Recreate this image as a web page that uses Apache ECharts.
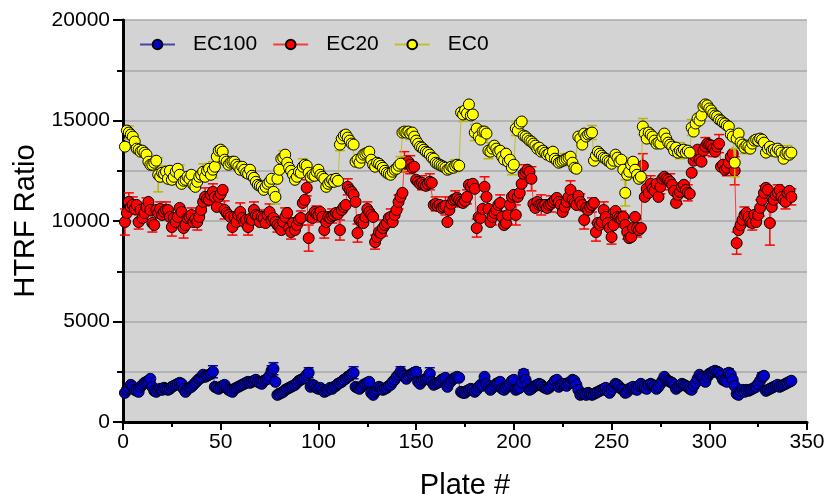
<!DOCTYPE html>
<html>
<head>
<meta charset="utf-8">
<script src="https://cdn.jsdelivr.net/npm/echarts@6.0.0/dist/echarts.min.js"></script>
<style>
  html, body { margin: 0; padding: 0; background: #fff; }
  #chart { width: 827px; height: 494px; }
</style>
</head>
<body>
<div id="chart"></div>
<script>
// HTRF ratio per plate
const seriesNames = ["EC100", "EC20", "EC0"];

const ec100 = [
  1450,1600,1700,1850,1750,1600,1550,1500,1750,1850,
  1950,2000,2050,2150,1750,1550,1500,1600,1650,1600,
  1700,1650,1600,1650,1750,1800,1850,1900,1950,1900,
  1650,1500,1650,1700,1750,1850,1950,2050,2150,2200,
  2350,2250,2300,2350,2400,2500,1750,1700,1650,1750,
  1800,1850,1700,1600,1550,1500,1650,1700,1750,1800,
  1850,1900,1950,2000,1950,2000,2050,2100,2000,1950,
  1900,2050,2100,2150,2300,2550,2650,2000,1350,1400,
  1450,1500,1600,1650,1700,1750,1800,1850,1950,2050,
  2100,2150,2200,2350,2450,1750,1850,1800,1700,1650,
  1700,1600,1500,1550,1600,1700,1650,1750,1800,1900,
  1950,2000,2100,2150,2250,2300,2400,2450,1750,1700,
  1650,1750,1850,1900,1950,2000,1450,1350,1500,1600,
  1750,1700,1600,1650,1700,1800,1850,2000,2100,2250,
  2350,2500,2400,2300,2150,2300,2350,2400,2450,2500,
  2000,1900,2050,2100,2150,2200,2400,2000,1850,1900,
  1950,2000,2100,2150,2200,1750,1950,2050,2150,2200,
  2250,2200,1500,1450,1450,1550,1600,1650,1600,1500,
  1600,1750,1850,1800,2250,1900,1750,1600,1700,1800,
  1900,1950,2000,1650,1600,1700,1800,1900,2050,2100,
  1600,1650,1700,1950,2400,2100,1850,1600,1650,1750,
  1800,1850,1900,1850,1750,1700,1650,1700,1800,1900,
  2050,2100,1750,1850,1900,1850,1800,1950,2000,2100,
  2050,1850,1600,1350,1400,1400,1350,1450,1400,1350,
  1400,1450,1500,1550,1600,1650,1700,1550,1450,1600,
  1750,1900,1850,1750,1650,1600,1450,1500,1650,1700,
  1750,1650,1600,1800,1900,1750,1700,1650,1850,1900,
  1850,1800,1650,1750,1900,2050,2250,2100,2050,2000,
  1950,1850,1650,1750,1800,1900,1850,1800,1750,1650,
  1600,1800,1950,2150,2350,2250,2200,2000,2250,2400,
  2450,2500,2550,2500,2450,2300,2100,2050,2000,2450,
  2350,2100,1800,1400,1350,1550,1600,1500,1600,1550,
  1600,1650,1700,1750,1900,2050,2250,2300,1550,1600,
  1650,1700,1750,1800,1850,1750,1800,1850,1900,1950,
  2000,2050
];

const ec20 = [
  9950,10400,10950,10700,10800,10600,10800,9950,10550,10150,
  10400,10700,10950,10550,9900,9800,10550,10400,10600,10300,
  10450,10550,10550,10200,9700,10150,9950,10200,10650,10450,
  9650,9800,10150,10200,10300,9950,10100,9950,10200,10550,
  10950,11200,11100,11050,11300,11450,11200,10700,11200,11350,
  11550,10550,10400,10300,10200,9700,10200,9950,10300,10450,
  10150,9950,10050,9700,10100,10050,10550,10300,10250,9950,
  10200,10150,9900,10300,10450,10050,10150,9950,9800,9700,
  9550,9950,10200,10400,9650,9450,9900,9550,9800,10050,
  10150,10900,11050,11650,9150,10200,10150,10450,10350,10300,
  10450,10200,9550,9950,10200,10150,10250,10300,10400,10350,
  9550,10550,10700,10800,11700,11550,11450,11300,10950,9400,
  10050,9950,9900,10200,10600,10450,10300,10200,8950,9200,
  9450,9400,9650,9800,9900,10150,10200,9950,10300,10550,
  10950,11200,11400,12950,12850,12950,12800,12650,12700,12050,
  11950,11850,11900,11800,11750,11850,11950,11900,10800,10850,
  10750,10800,10650,10700,10750,9950,10550,10850,11050,11100,
  11150,11050,10950,10900,11000,11200,11800,11700,11850,11600,
  9650,10200,10150,10600,11700,11200,10600,9950,10200,10400,
  10550,10800,10900,10200,9800,9900,10300,10800,11200,11300,
  10300,11200,11400,11850,12350,12450,12550,12450,12100,10850,
  10650,10950,10800,10800,10750,10800,10650,10800,10850,10950,
  11050,11150,10950,10800,10450,10700,10950,11200,11550,11050,
  10900,10800,11250,10950,10800,10050,10650,10550,10700,10800,
  10900,9450,9900,9800,9950,10550,10200,9900,9650,9200,
  9800,10500,10200,10150,10100,10200,9800,9450,9150,9200,
  9650,10200,9650,9550,9650,12750,11200,11600,11400,11850,
  11600,11500,11850,11200,11700,12100,12200,12100,12050,11950,
  11800,11500,10900,11300,11450,11700,11800,11550,11400,11350,
  12400,13000,13200,13550,13050,12950,13500,13700,13850,13800,
  13750,13600,13450,13700,13850,12700,12800,12550,12650,12900,
  13200,13350,12500,8900,9550,9800,10050,10300,10400,10200,
  9950,9900,10300,9950,10300,10650,11050,11400,11650,11550,
  9900,10700,11050,11300,11400,11550,11200,11050,10950,11400,
  11500,11200
];

const ec0 = [
  13700,14500,14400,14300,14200,13950,13600,13550,13450,13500,
  13400,13300,12950,12800,12800,12900,13000,12300,12200,12400,
  12350,12450,12100,12500,12050,12200,12450,12600,12300,11850,
  12000,12050,12200,12100,12300,11800,11700,11950,12200,12300,
  12450,12200,12500,12600,12300,12550,12700,13200,13500,13550,
  13450,13050,12950,12800,12900,12950,12950,12800,12700,12550,
  12700,12550,12400,12350,12550,12250,12150,11950,11800,11750,
  11700,11550,11700,11850,11950,12100,11450,11200,12100,12550,
  13100,13150,13300,12900,12650,12500,12300,12050,12200,12450,
  12400,12700,12800,12750,12400,12200,12300,12250,12450,12550,
  12300,12200,12100,11700,11850,11950,12050,11950,12100,12000,
  13800,14100,14250,14300,14150,14000,13850,13800,12950,13050,
  12900,13150,13300,13350,13400,13450,13050,12800,12700,12900,
  12850,12750,12650,12500,12400,12350,12300,12450,12550,12600,
  12750,12850,14400,14450,14400,14450,14350,14400,14200,14000,
  13850,13700,13650,13550,13450,13400,13300,13150,13100,12900,
  12850,12800,12750,12700,12650,12550,12600,12700,12650,12750,
  12800,12750,15400,15300,15500,15350,15800,15250,15300,14400,
  14600,14200,14050,14450,14450,14350,13500,13450,13600,13750,
  13600,13450,13500,13200,13050,13350,12950,13050,12650,12800,
  14600,14500,14850,14950,14250,14200,14100,14000,13950,13850,
  13750,13600,13650,13450,13500,13400,13300,13350,13200,13450,
  13100,13000,12900,12950,13000,13050,13100,13150,13200,12900,
  12650,12600,14200,14100,13800,14350,14200,14300,14350,14400,
  13000,13250,13450,13350,13250,13150,13100,13000,12950,12850,
  13000,13300,13150,12950,13050,12550,11400,12300,12450,12800,
  12950,12550,12300,12100,12200,14700,14350,14100,14400,14300,
  14200,14000,13850,13900,13850,14200,14350,14100,13900,13800,
  13700,13500,13650,13400,13500,13450,13550,13400,13500,13400,
  14650,14450,14850,15100,15000,15250,15700,15800,15750,15600,
  15500,15350,15250,15200,15050,15000,14900,14850,14750,14700,
  14300,14200,12900,14100,14350,13900,13800,13650,13750,13700,
  13600,13850,14000,14050,14000,14100,14050,13900,13400,13600,
  13700,13500,13550,13450,13600,13500,13400,13100,13350,13400,
  13300,13400
];

// error bars that show past the markers: [plate, sd]
const ec100Err = [
  [46,300],[76,250],[77,300],[95,250],[118,300],[142,250],[150,200],
  [157,300],[205,200],[303,200],[310,200],[327,200]
];
const ec20Err = [
  [1,650],[3,450],[5,400],[8,350],[12,450],[15,450],[19,350],[22,400],
  [25,450],[28,400],[31,500],[35,350],[38,400],[42,450],[46,400],[49,350],
  [52,450],[56,400],[60,450],[64,400],[67,400],[71,350],[75,400],[79,350],
  [83,450],[86,350],[91,350],[94,400],[95,650],[99,400],[103,400],[107,350],
  [111,500],[115,400],[120,450],[125,350],[129,350],[133,400],[137,400],
  [141,350],[144,500],[147,450],[153,350],[157,400],[160,350],[165,450],
  [170,400],[176,350],[181,450],[185,500],[189,400],[193,400],[197,450],
  [201,500],[205,450],[209,600],[214,500],[219,400],[224,400],[229,450],
  [234,400],[236,450],[240,350],[242,450],[246,400],[250,350],[255,400],
  [258,350],[263,450],[266,600],[270,400],[275,350],[280,400],[284,450],
  [289,400],[293,400],[298,450],[302,400],[305,450],[309,400],[313,700],
  [314,550],[318,400],[322,350],[326,400],[328,350],[331,1100],[335,400],
  [339,350],[342,400]
];
const ec0Err = [
  [3,330],[18,850],[21,400],[29,500],[41,400],[46,400],[78,350],[82,350],
  [92,400],[111,300],[142,350],[147,300],[170,300],[174,350],[180,400],
  [187,400],[199,350],[201,350],[226,300],[240,350],[257,650],[260,350],
  [266,400],[285,400],[291,400],[313,700],[318,300],[340,350]
];

const FONT = "'Liberation Sans', Arial, sans-serif";

function points(values) {
  return values.map((v, i) => [i + 1, v]);
}

function errorBars(values, errs, color, z) {
  return {
    type: "custom",
    silent: true,
    z: z,
    data: errs.map(([p, e]) => [p, values[p - 1], e]),
    renderItem: function (params, api) {
      const x = api.value(0);
      const y = api.value(1);
      const e = api.value(2);
      const hi = api.coord([x, y + e]);
      const lo = api.coord([x, y - e]);
      const hw = 5;
      const style = { stroke: color, lineWidth: 1.5 };
      return {
        type: "group",
        children: [
          { type: "line", shape: { x1: hi[0], y1: hi[1], x2: lo[0], y2: lo[1] }, style: style },
          { type: "line", shape: { x1: hi[0] - hw, y1: hi[1], x2: hi[0] + hw, y2: hi[1] }, style: style },
          { type: "line", shape: { x1: lo[0] - hw, y1: lo[1], x2: lo[0] + hw, y2: lo[1] }, style: style },
        ],
      };
    },
  };
}

function lineSeries(name, values, fill, stroke, z) {
  return {
    name: name,
    type: "line",
    z: z,
    data: points(values),
    symbol: "circle",
    symbolSize: 11,
    showAllSymbol: true,
    lineStyle: { color: stroke, width: 1 },
    itemStyle: { color: fill, borderColor: "#000", borderWidth: 1 },
    emphasis: { disabled: true },
  };
}

const chart = echarts.init(document.getElementById("chart"));
chart.setOption({
  animation: false,
  grid: {
    left: 123,
    right: 20,
    top: 20,
    bottom: 72,
    outerBoundsMode: "none",
    containLabel: false,
    show: true,
    backgroundColor: "#d3d3d3",
    borderWidth: 0,
  },
  legend: {
    data: seriesNames,
    left: 139,
    top: 34,
    padding: 0,
    itemWidth: 35,
    itemHeight: 12,
    itemGap: 15,
    textStyle: { fontFamily: FONT, fontSize: 21, color: "#000", padding: [0, 0, 0, 13] },
  },
  xAxis: {
    type: "value",
    min: 0,
    max: 350,
    interval: 50,
    name: "Plate #",
    nameLocation: "middle",
    nameGap: 49,
    nameTextStyle: { fontFamily: FONT, fontSize: 29, color: "#000" },
    axisLine: { show: true, onZero: false, lineStyle: { color: "#000", width: 3 } },
    axisTick: { show: true, length: 8, lineStyle: { color: "#000", width: 2 } },
    minorTick: { show: true, splitNumber: 2, length: 5, lineStyle: { color: "#000", width: 2 } },
    axisLabel: { fontFamily: FONT, fontSize: 21, color: "#000", margin: 10 },
    splitLine: { show: false },
  },
  yAxis: {
    type: "value",
    min: 0,
    max: 20000,
    interval: 5000,
    name: "HTRF Ratio",
    nameLocation: "middle",
    nameGap: 60,
    nameTextStyle: { fontFamily: FONT, fontSize: 29, color: "#000" },
    axisLine: { show: true, lineStyle: { color: "#000", width: 3 } },
    axisTick: { show: true, length: 10, lineStyle: { color: "#000", width: 2 } },
    minorTick: { show: true, splitNumber: 2, length: 6, lineStyle: { color: "#000", width: 2 } },
    axisLabel: {
      fontFamily: FONT,
      fontSize: 21,
      color: "#000",
      margin: 13,
      formatter: (v) => String(v),
    },
    splitLine: { show: true, lineStyle: { color: "#a8a8a8", width: 1.5 } },
    minorSplitLine: { show: true, lineStyle: { color: "#a8a8a8", width: 1.5 } },
  },
  series: [
    errorBars(ec100, ec100Err, "#0000c0", 1),
    lineSeries("EC100", ec100, "#0000c8", "#4646a8", 2),
    errorBars(ec20, ec20Err, "#ff0000", 3),
    lineSeries("EC20", ec20, "#ff0000", "#f04040", 4),
    errorBars(ec0, ec0Err, "#b8b800", 5),
    lineSeries("EC0", ec0, "#ffff00", "#c0c030", 6),
  ],
});
</script>
</body>
</html>
